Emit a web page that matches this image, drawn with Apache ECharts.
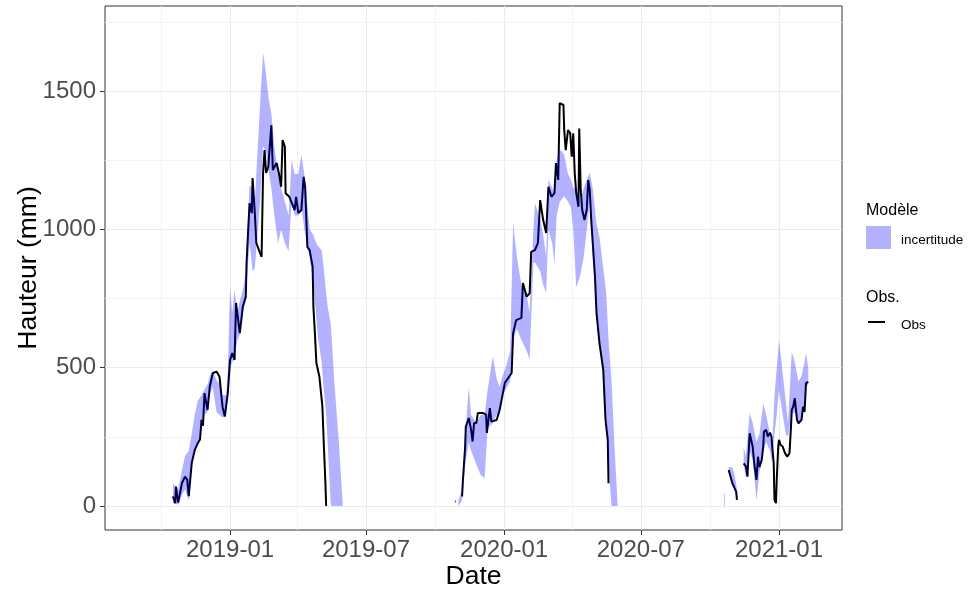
<!DOCTYPE html>
<html>
<head>
<meta charset="utf-8">
<script src="https://cdn.jsdelivr.net/npm/echarts@6/dist/echarts.min.js"></script>
<style>
  html, body { margin: 0; padding: 0; background: #ffffff; }
  #chart { width: 975px; height: 590px; }
</style>
</head>
<body>
<div id="chart"></div>
<script>
// Observed snow height (mm); null marks a break between records
const obsDates = [
  '2018-10-17','2018-10-20','2018-10-21','2018-10-24','2018-10-26','2018-10-29','2018-11-02','2018-11-05','2018-11-07','2018-11-11',
  '2018-11-15','2018-11-19','2018-11-22','2018-11-24','2018-11-26','2018-11-28','2018-12-02','2018-12-05','2018-12-09','2018-12-14',
  '2018-12-18','2018-12-22','2018-12-25','2018-12-27','2018-12-29','2019-01-01','2019-01-04','2019-01-07','2019-01-09','2019-01-14',
  '2019-01-18','2019-01-22','2019-01-23','2019-01-27','2019-01-30','2019-01-31','2019-02-03','2019-02-05','2019-02-10','2019-02-12',
  '2019-02-14','2019-02-16','2019-02-18','2019-02-21','2019-02-25','2019-02-27','2019-03-04','2019-03-07','2019-03-10','2019-03-12',
  '2019-03-15','2019-03-16','2019-03-21','2019-03-28','2019-03-30','2019-04-02','2019-04-06','2019-04-09','2019-04-11','2019-04-14',
  '2019-04-17','2019-04-21','2019-04-22','2019-04-24','2019-04-26','2019-04-30','2019-05-04','2019-05-06','2019-05-08','2019-05-09',
  '2019-07-15',
  '2019-10-28','2019-10-29',
  '2019-11-02',
  '2019-11-06','2019-11-07','2019-11-10','2019-11-11','2019-11-15','2019-11-18','2019-11-20','2019-11-22','2019-11-25','2019-11-27',
  '2019-12-04','2019-12-08','2019-12-09','2019-12-13','2019-12-15','2019-12-22','2019-12-26','2020-01-02','2020-01-11','2020-01-13',
  '2020-01-17','2020-01-24','2020-01-26','2020-01-31','2020-02-04','2020-02-06','2020-02-11','2020-02-15','2020-02-18','2020-02-22',
  '2020-02-26','2020-02-29','2020-03-04','2020-03-08','2020-03-10','2020-03-13','2020-03-15','2020-03-20','2020-03-21','2020-03-23',
  '2020-03-26','2020-03-29','2020-03-31','2020-04-02','2020-04-04','2020-04-06','2020-04-09','2020-04-10','2020-04-12','2020-04-14',
  '2020-04-17','2020-04-20','2020-04-22','2020-04-24','2020-04-26','2020-05-01','2020-05-03','2020-05-07','2020-05-12','2020-05-15',
  '2020-05-18','2020-05-19',
  '2020-08-01',
  '2020-10-26','2020-10-31','2020-11-02','2020-11-05','2020-11-06',
  '2020-11-10',
  '2020-11-15','2020-11-18','2020-11-20','2020-11-23','2020-11-25','2020-11-27','2020-11-29','2020-12-02','2020-12-04','2020-12-06',
  '2020-12-09','2020-12-11','2020-12-12','2020-12-15','2020-12-17','2020-12-20','2020-12-22','2020-12-23','2020-12-25','2020-12-26',
  '2020-12-28','2020-12-29','2020-12-31','2021-01-01','2021-01-03','2021-01-06','2021-01-09','2021-01-12','2021-01-15','2021-01-17',
  '2021-01-18','2021-01-20','2021-01-22','2021-01-25','2021-01-27','2021-01-29','2021-01-31','2021-02-02','2021-02-04','2021-02-06',
  '2021-02-09'
];
const obsMm = [
  34, 10, 70, 12, 15, 83, 106, 95, 35, 155,
  202, 227, 240, 311, 290, 408, 347, 431, 480, 486,
  467, 359, 323, 322, 408, 528, 553, 528, 734, 625,
  720, 757, 878, 1095, 1059, 1186, 1059, 951, 914, 901,
  1204, 1287, 1204, 1227, 1377, 1215, 1240, 1204, 1154, 1323,
  1299, 1131, 1118, 1070, 1118, 1059, 1070, 1190, 1154, 937,
  925, 865, 720, 625, 517, 467, 359, 214, 83, 0,
  null,
  16, 16,
  null,
  34, 88, 210, 287, 318, 275, 233, 300, 300, 336,
  336, 330, 264, 354, 305, 311, 347, 445, 481, 625,
  672, 680, 806, 757, 769, 919, 925, 951, 1106, 1034,
  987, 1154, 1118, 1131, 1240, 1179, 1457, 1450, 1359, 1287,
  1359, 1348, 1263, 1348, 1204, 1131, 1082, 1365, 1142, 1070,
  1034, 1070, 1179, 1142, 1034, 829, 698, 588, 492, 311,
  239, 82,
  null,
  130, 82, 70, 52, 22,
  null,
  154, 142, 106, 263, 260, 214, 154, 94, 178, 140,
  166, 214, 269, 275, 251, 265, 251, 214, 154, 22,
  10, 94, 214, 239, 221, 214, 191, 178, 191, 287,
  347, 359, 390, 311, 299, 299, 311, 359, 340, 444,
  449
];

// Model uncertainty band (mm): lower and upper bounds; null marks a break
const bandDates = [
  '2018-10-17','2018-10-24','2018-10-29','2018-11-02','2018-11-07','2018-11-11','2018-11-15','2018-11-19','2018-11-24','2018-11-28',
  '2018-12-02','2018-12-05','2018-12-09','2018-12-14','2018-12-18','2018-12-22','2018-12-27','2018-12-29','2019-01-01','2019-01-04',
  '2019-01-07','2019-01-11','2019-01-14','2019-01-18','2019-01-22','2019-01-27','2019-01-31','2019-02-03','2019-02-07','2019-02-10',
  '2019-02-14','2019-02-18','2019-02-21','2019-02-25','2019-03-01','2019-03-06','2019-03-10','2019-03-15','2019-03-20','2019-03-24',
  '2019-03-28','2019-04-02','2019-04-06','2019-04-10','2019-04-13','2019-04-17','2019-04-22','2019-04-24','2019-04-28','2019-05-03',
  '2019-05-05','2019-05-09','2019-05-11','2019-05-15','2019-05-16','2019-05-20','2019-05-26','2019-05-31',
  '2019-07-15',
  '2019-11-01','2019-11-06','2019-11-10','2019-11-15','2019-11-18','2019-11-25','2019-12-01','2019-12-06','2019-12-10','2019-12-17',
  '2019-12-22','2019-12-26','2019-12-30','2020-01-03','2020-01-09','2020-01-13','2020-01-18','2020-01-24','2020-01-31','2020-02-04',
  '2020-02-09','2020-02-11','2020-02-18','2020-02-22','2020-02-26','2020-02-29','2020-03-05','2020-03-08','2020-03-11','2020-03-15',
  '2020-03-21','2020-03-26','2020-03-30','2020-04-02','2020-04-06','2020-04-11','2020-04-16','2020-04-20','2020-04-24','2020-04-28',
  '2020-05-03','2020-05-07','2020-05-12','2020-05-16','2020-05-19','2020-05-23','2020-05-27','2020-05-31',
  '2020-08-01',
  '2020-10-20','2020-10-21',
  '2020-10-23',
  '2020-10-26','2020-10-31','2020-11-03','2020-11-06',
  '2020-11-10',
  '2020-11-15','2020-11-18','2020-11-23','2020-11-27','2020-12-02','2020-12-06','2020-12-11','2020-12-15','2020-12-20','2020-12-23',
  '2020-12-26','2020-12-29','2021-01-01','2021-01-06','2021-01-10','2021-01-13','2021-01-18','2021-01-22','2021-01-27','2021-01-31',
  '2021-02-04','2021-02-06','2021-02-09'
];
const bandLow = [
  10, 5, 40, 60, 20, 150, 200, 220, 290, 330,
  340, 400, 430, 340, 330, 320, 330, 400, 500, 520,
  540, 600, 620, 700, 760, 950, 850, 860, 1000, 1100,
  1300, 1280, 1220, 1150, 1050, 950, 1000, 950, 920, 1100,
  1050, 1050, 1080, 1000, 951, 900, 806, 740, 612, 520,
  444, 330, 227, 10, 0, 0, 0, 0,
  null,
  0, 20, 150, 230, 200, 150, 110, 100, 280, 300,
  330, 330, 400, 420, 450, 600, 640, 600, 560, 530,
  880, 880, 850, 800, 769, 1000, 950, 878, 1050, 1100,
  1120, 1100, 1080, 1000, 791, 830, 900, 1000, 1100, 900,
  698, 600, 500, 300, 150, 0, 0, 0,
  null,
  0, 0,
  null,
  120, 80, 55, 20,
  null,
  150, 100, 200, 170, 20, 120, 200, 230, 200, 154,
  260, 330, 420, 330, 260, 250, 330, 340, 300, 310,
  380, 430, 440
];
const bandHigh = [
  80, 60, 130, 180, 200, 260, 330, 380, 400, 420,
  440, 470, 490, 455, 440, 400, 400, 480, 790, 700,
  780, 700, 740, 780, 850, 1160, 1150, 1100, 1300, 1450,
  1640, 1560, 1480, 1420, 1300, 1200, 1150, 1100, 1050, 1250,
  1200, 1200, 1270, 1200, 1120, 1000, 980, 962, 940, 925,
  880, 769, 720, 660, 625, 444, 227, 10,
  null,
  20, 60, 250, 431, 330, 300, 330, 330, 420, 540,
  460, 430, 470, 500, 560, 1022, 900, 800, 760, 700,
  1000, 1095, 1040, 980, 900, 1180, 1150, 1130, 1250, 1290,
  1271, 1200, 1180, 1150, 1150, 1100, 1150, 1180, 1204, 1150,
  1020, 972, 860, 769, 600, 455, 214, 10,
  null,
  45, 45,
  null,
  140, 140, 110, 60,
  null,
  210, 180, 336, 300, 230, 260, 370, 330, 260, 220,
  400, 500, 600, 480, 380, 300, 558, 520, 450, 470,
  520, 553, 500
];

// Axis range and tick positions
const xMinDate = '2018-07-18T12:00';
const xMaxDate = '2021-03-25T22:00';
const yMin = -87;
const yMax = 1808;
const xMajorTicks = ['2019-01-01', '2019-07-01', '2020-01-01', '2020-07-01', '2021-01-01'];
const xMinorTicks = ['2018-10-01', '2019-04-01', '2019-10-01', '2020-04-01', '2020-10-01'];
const yMajorTicks = [0, 500, 1000, 1500];
const yMinorTicks = [250, 750, 1250, 1750];

const FONT = '"Liberation Sans", Arial, Helvetica, sans-serif';
const GRID_MAJOR = '#EBEBEB';
const GRID_MINOR = '#F3F3F3';
const BAND_FILL = 'rgba(0, 0, 255, 0.3)';

// Dates are placed on a numeric (millisecond) axis, UTC based
function ms(s) {
  const [d, t] = s.split('T');
  const [y, m, day] = d.split('-').map(Number);
  let h = 0, mi = 0;
  if (t) { [h, mi] = t.split(':').map(Number); }
  return Date.UTC(y, m - 1, day, h, mi);
}
function monthLabel(v) {
  const dt = new Date(v);
  const m = dt.getUTCMonth() + 1;
  return dt.getUTCFullYear() + '-' + (m < 10 ? '0' + m : m);
}

const toVal = v => (v === null || v === undefined) ? '-' : v;
const obsData = obsDates.map((d, i) => [ms(d), toVal(obsMm[i])]);

// Split the band into continuous runs; each run becomes one polygon
const bandRuns = [];
(function () {
  let run = null;
  bandDates.forEach((d, i) => {
    if (bandLow[i] === null) { run = null; return; }
    if (!run) { run = []; bandRuns.push(run); }
    run.push(i);
  });
})();
const bandRunData = bandRuns.map((run, k) => [ms(bandDates[run[0]]), bandLow[run[0]], k]);

function renderBand(params, api) {
  const run = bandRuns[params.dataIndex];
  const pts = [];
  run.forEach(i => pts.push(api.coord([ms(bandDates[i]), bandLow[i]])));
  for (let j = run.length - 1; j >= 0; j--) {
    const i = run[j];
    pts.push(api.coord([ms(bandDates[i]), bandHigh[i]]));
  }
  return {
    type: 'polygon',
    shape: { points: pts },
    style: { fill: BAND_FILL, stroke: null }
  };
}

const xMin = ms(xMinDate);
const xMax = ms(xMaxDate);

const chart = echarts.init(document.getElementById('chart'), null, { renderer: 'canvas' });

chart.setOption({
  animation: false,
  backgroundColor: '#ffffff',
  textStyle: { fontFamily: FONT },
  grid: {
    left: 105, top: 6, right: 133, bottom: 60,
    outerBoundsMode: 'none', containLabel: false,
    show: true, borderColor: '#333333', borderWidth: 1, backgroundColor: 'transparent'
  },
  xAxis: [
    {
      type: 'value', min: xMin, max: xMax,
      name: 'Date', nameLocation: 'middle', nameGap: 33, nameMoveOverlap: false,
      nameTextStyle: { fontSize: 26.5, color: '#000000', fontFamily: FONT },
      axisLine: { show: false, onZero: false },
      axisTick: { show: true, length: 5, customValues: xMajorTicks.map(ms),
                  lineStyle: { color: '#333333', width: 1 } },
      axisLabel: { customValues: xMajorTicks.map(ms), formatter: monthLabel, margin: 8,
                   fontSize: 24, color: '#4D4D4D', fontFamily: FONT },
      splitLine: { show: true, lineStyle: { color: GRID_MAJOR, width: 1 } }
    },
    {
      type: 'value', min: xMin, max: xMax, position: 'bottom',
      axisLine: { show: false, onZero: false },
      axisTick: { show: false, customValues: xMinorTicks.map(ms) },
      axisLabel: { show: false },
      splitLine: { show: true, lineStyle: { color: GRID_MINOR, width: 1 } }
    }
  ],
  yAxis: [
    {
      type: 'value', min: yMin, max: yMax,
      name: 'Hauteur (mm)', nameLocation: 'middle', nameGap: 63, nameMoveOverlap: false,
      nameTextStyle: { fontSize: 26.5, color: '#000000', fontFamily: FONT },
      axisLine: { show: false, onZero: false },
      axisTick: { show: true, length: 5, customValues: yMajorTicks,
                  lineStyle: { color: '#333333', width: 1 } },
      axisLabel: { customValues: yMajorTicks, margin: 9, formatter: v => String(v),
                   fontSize: 24, color: '#4D4D4D', fontFamily: FONT },
      splitLine: { show: true, lineStyle: { color: GRID_MAJOR, width: 1 } }
    },
    {
      type: 'value', min: yMin, max: yMax, position: 'left',
      axisLine: { show: false, onZero: false },
      axisTick: { show: false, customValues: yMinorTicks },
      axisLabel: { show: false },
      splitLine: { show: true, lineStyle: { color: GRID_MINOR, width: 1 } }
    }
  ],
  series: [
    {
      name: 'Obs', type: 'line', data: obsData,
      xAxisIndex: 0, yAxisIndex: 0,
      showSymbol: false, symbol: 'none', connectNulls: false,
      lineStyle: { color: '#000000', width: 2 },
      z: 2, silent: true
    },
    {
      name: 'incertitude', type: 'custom', data: bandRunData,
      xAxisIndex: 0, yAxisIndex: 0,
      renderItem: renderBand,
      z: 3, silent: true
    }
  ],
  graphic: [
    { type: 'text', left: 866, top: 203,
      style: { text: 'Modèle', font: '16px ' + FONT, fill: '#000000' } },
    { type: 'rect', shape: { x: 866, y: 226, width: 25, height: 23 },
      style: { fill: BAND_FILL } },
    { type: 'text', left: 901, top: 233,
      style: { text: 'incertitude', font: '13.5px ' + FONT, fill: '#000000' } },
    { type: 'text', left: 866, top: 290,
      style: { text: 'Obs.', font: '16px ' + FONT, fill: '#000000' } },
    { type: 'line', shape: { x1: 868, y1: 322, x2: 885, y2: 322 },
      style: { stroke: '#000000', lineWidth: 2 } },
    { type: 'text', left: 901, top: 318,
      style: { text: 'Obs', font: '13.5px ' + FONT, fill: '#000000' } }
  ]
});
</script>
</body>
</html>
